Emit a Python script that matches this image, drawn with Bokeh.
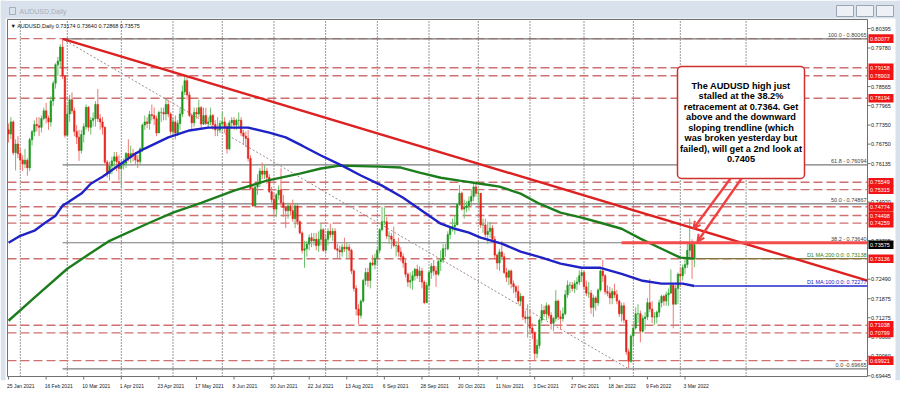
import numpy as np
from bokeh.plotting import figure
from bokeh.models import (ColumnDataSource, Range1d, FixedTicker, Arrow, OpenHead)
from bokeh.core.properties import value
from bokeh.embed import file_html
from bokeh.resources import INLINE

# ---------------- data ----------------
window_title = "AUDUSD,Daily"
header_text = "\u25bc AUDUSD,Daily  0.73174 0.73640 0.72868 0.73575"

date_labels = ["25 Jan 2021", "16 Feb 2021", "10 Mar 2021", "1 Apr 2021", "23 Apr 2021",
               "17 May 2021", "8 Jun 2021", "30 Jun 2021", "22 Jul 2021", "13 Aug 2021",
               "6 Sep 2021", "28 Sep 2021", "20 Oct 2021", "11 Nov 2021", "3 Dec 2021",
               "27 Dec 2021", "18 Jan 2022", "9 Feb 2022", "3 Mar 2022"]
date_label_bars = [0, 16, 32, 48, 64, 80, 96, 112, 128, 144, 160, 176, 192, 208, 224,
                   240, 256, 272, 288]
month_start_bars = [5, 25, 48, 70, 91, 113, 135, 157, 179, 200, 222, 245, 266, 286, 314]

first_open = 0.7720
closes = [
    0.7707, 0.7745, 0.7648, 0.7675, 0.7645,
    0.7625, 0.7612, 0.7624, 0.7600, 0.7689,
    0.7714, 0.7737, 0.7733, 0.7728, 0.7756,
    0.7780, 0.7757, 0.7745, 0.7811, 0.7867,
    0.7925, 0.7937, 0.7981, 0.7890, 0.7703,
    0.7770, 0.7815, 0.7780, 0.7715, 0.7697,
    0.7655, 0.7705, 0.7730, 0.7791, 0.7728,
    0.7750, 0.7756, 0.7800, 0.7755, 0.7745,
    0.7728, 0.7618, 0.7582, 0.7606, 0.7622,
    0.7635, 0.7620, 0.7598, 0.7610, 0.7615,
    0.7645, 0.7632, 0.7645, 0.7640, 0.7625,
    0.7620, 0.7660, 0.7735, 0.7745, 0.7740,
    0.7768, 0.7765, 0.7755, 0.7710, 0.7775,
    0.7775, 0.7770, 0.7800, 0.7770, 0.7715,
    0.7745, 0.7710, 0.7740, 0.7770, 0.7840,
    0.7875, 0.7830, 0.7765, 0.7742, 0.7775,
    0.7770, 0.7790, 0.7738, 0.7765, 0.7740,
    0.7745, 0.7765, 0.7737, 0.7720, 0.7720,
    0.7740, 0.7745, 0.7730, 0.7660, 0.7742,
    0.7750, 0.7735, 0.7750, 0.7750, 0.7710,
    0.7700, 0.7693, 0.7630, 0.7535, 0.7480,
    0.7540, 0.7550, 0.7590, 0.7580, 0.7590,
    0.7570, 0.7525, 0.7500, 0.7470, 0.7515,
    0.7530, 0.7490, 0.7475, 0.7465, 0.7480,
    0.7465, 0.7440, 0.7480, 0.7430, 0.7395,
    0.7340, 0.7345, 0.7360, 0.7380, 0.7370,
    0.7375, 0.7355, 0.7375, 0.7405, 0.7340,
    0.7375, 0.7400, 0.7390, 0.7400, 0.7345,
    0.7340, 0.7335, 0.7350, 0.7345, 0.7350,
    0.7340, 0.7275, 0.7220, 0.7155, 0.7135,
    0.7180, 0.7245, 0.7270, 0.7245, 0.7300,
    0.7295, 0.7315, 0.7340, 0.7405, 0.7430,
    0.7430, 0.7385, 0.7385, 0.7375, 0.7355,
    0.7355, 0.7335, 0.7320, 0.7300, 0.7265,
    0.7240, 0.7245, 0.7260, 0.7280, 0.7260,
    0.7275, 0.7240, 0.7175, 0.7230, 0.7270,
    0.7290, 0.7275, 0.7265, 0.7305, 0.7310,
    0.7345, 0.7345, 0.7390, 0.7410, 0.7415,
    0.7420, 0.7485, 0.7520, 0.7470, 0.7475,
    0.7480, 0.7495, 0.7510, 0.7540, 0.7520,
    0.7520, 0.7420, 0.7420, 0.7390, 0.7400,
    0.7410, 0.7375, 0.7325, 0.7300, 0.7335,
    0.7320, 0.7270, 0.7255, 0.7275, 0.7235,
    0.7225, 0.7210, 0.7180, 0.7195, 0.7130,
    0.7125, 0.7130, 0.7095, 0.7080, 0.7015,
    0.7040, 0.7120, 0.7150, 0.7140, 0.7165,
    0.7135, 0.7110, 0.7125, 0.7180, 0.7130,
    0.7125, 0.7140, 0.7200, 0.7230, 0.7230,
    0.7220, 0.7235, 0.7240, 0.7260, 0.7270,
    0.7225, 0.7205, 0.7205, 0.7160, 0.7190,
    0.7175, 0.7215, 0.7275, 0.7260, 0.7210,
    0.7205, 0.7190, 0.7210, 0.7200, 0.7180,
    0.7140, 0.7165, 0.7120, 0.7020, 0.6990,
    0.7070, 0.7095, 0.7140, 0.7140, 0.7085,
    0.7125, 0.7130, 0.7175, 0.7155, 0.7130,
    0.7130, 0.7145, 0.7175, 0.7195, 0.7180,
    0.7200, 0.7205, 0.7230, 0.7170, 0.7220,
    0.7265, 0.7260, 0.7285, 0.7295, 0.7340,
    0.7360, 0.7317, 0.7358,
]
highs = [
    0.7740, 0.7760, 0.7750, 0.7690, 0.7700,
    0.7660, 0.7640, 0.7660, 0.7630, 0.7695,
    0.7720, 0.7750, 0.7760, 0.7760, 0.7765,
    0.7790, 0.7805, 0.7765, 0.7825, 0.7875,
    0.7930, 0.7950, 0.7990, 0.8007, 0.7890,
    0.7800, 0.7830, 0.7838, 0.7790, 0.7735,
    0.7720, 0.7720, 0.7740, 0.7800, 0.7795,
    0.7760, 0.7775, 0.7810, 0.7849, 0.7770,
    0.7760, 0.7730, 0.7625, 0.7620, 0.7635,
    0.7650, 0.7650, 0.7640, 0.7625, 0.7630,
    0.7650, 0.7690, 0.7670, 0.7660, 0.7650,
    0.7640, 0.7665, 0.7740, 0.7765, 0.7760,
    0.7780, 0.7800, 0.7790, 0.7765, 0.7780,
    0.7790, 0.7790, 0.7818, 0.7815, 0.7775,
    0.7760, 0.7765, 0.7750, 0.7790, 0.7860,
    0.7891, 0.7885, 0.7840, 0.7770, 0.7790,
    0.7790, 0.7815, 0.7795, 0.7790, 0.7790,
    0.7760, 0.7790, 0.7770, 0.7750, 0.7760,
    0.7750, 0.7775, 0.7760, 0.7740, 0.7750,
    0.7760, 0.7760, 0.7755, 0.7775, 0.7760,
    0.7720, 0.7715, 0.7720, 0.7640, 0.7550,
    0.7545, 0.7580, 0.7600, 0.7617, 0.7610,
    0.7600, 0.7580, 0.7540, 0.7520, 0.7520,
    0.7545, 0.7599, 0.7515, 0.7480, 0.7490,
    0.7490, 0.7500, 0.7490, 0.7490, 0.7435,
    0.7400, 0.7370, 0.7370, 0.7390, 0.7395,
    0.7395, 0.7395, 0.7400, 0.7425, 0.7410,
    0.7390, 0.7410, 0.7425, 0.7410, 0.7410,
    0.7360, 0.7355, 0.7360, 0.7380, 0.7365,
    0.7360, 0.7345, 0.7280, 0.7230, 0.7170,
    0.7185, 0.7250, 0.7285, 0.7285, 0.7305,
    0.7325, 0.7330, 0.7350, 0.7410, 0.7478,
    0.7475, 0.7445, 0.7400, 0.7395, 0.7415,
    0.7370, 0.7380, 0.7350, 0.7330, 0.7315,
    0.7270, 0.7270, 0.7275, 0.7285, 0.7295,
    0.7290, 0.7285, 0.7245, 0.7240, 0.7275,
    0.7300, 0.7310, 0.7290, 0.7310, 0.7340,
    0.7360, 0.7360, 0.7400, 0.7415, 0.7440,
    0.7450, 0.7490, 0.7546, 0.7525, 0.7500,
    0.7495, 0.7510, 0.7530, 0.7556, 0.7550,
    0.7535, 0.7520, 0.7440, 0.7440, 0.7430,
    0.7430, 0.7420, 0.7385, 0.7330, 0.7345,
    0.7370, 0.7330, 0.7285, 0.7280, 0.7280,
    0.7245, 0.7230, 0.7230, 0.7205, 0.7195,
    0.7150, 0.7170, 0.7155, 0.7110, 0.7085,
    0.7060, 0.7125, 0.7170, 0.7165, 0.7175,
    0.7170, 0.7145, 0.7130, 0.7215, 0.7185,
    0.7150, 0.7160, 0.7215, 0.7245, 0.7240,
    0.7240, 0.7245, 0.7255, 0.7277, 0.7280,
    0.7275, 0.7245, 0.7240, 0.7215, 0.7200,
    0.7195, 0.7220, 0.7280, 0.7310, 0.7265,
    0.7230, 0.7225, 0.7220, 0.7235, 0.7215,
    0.7185, 0.7175, 0.7175, 0.7120, 0.7030,
    0.7075, 0.7110, 0.7160, 0.7170, 0.7150,
    0.7135, 0.7145, 0.7190, 0.7250, 0.7180,
    0.7145, 0.7150, 0.7185, 0.7200, 0.7200,
    0.7210, 0.7220, 0.7280, 0.7235, 0.7230,
    0.7270, 0.7285, 0.7295, 0.7310, 0.7360,
    0.7441, 0.7375, 0.7364,
]
lows = [
    0.7680, 0.7690, 0.7640, 0.7592, 0.7630,
    0.7593, 0.7590, 0.7600, 0.7575, 0.7590,
    0.7670, 0.7700, 0.7715, 0.7700, 0.7712,
    0.7750, 0.7740, 0.7720, 0.7730, 0.7795,
    0.7850, 0.7890, 0.7915, 0.7880, 0.7695,
    0.7700, 0.7745, 0.7770, 0.7700, 0.7675,
    0.7622, 0.7645, 0.7680, 0.7720, 0.7715,
    0.7705, 0.7730, 0.7730, 0.7745, 0.7720,
    0.7705, 0.7610, 0.7570, 0.7560, 0.7580,
    0.7600, 0.7590, 0.7560, 0.7535, 0.7595,
    0.7600, 0.7620, 0.7615, 0.7620, 0.7610,
    0.7600, 0.7610, 0.7650, 0.7720, 0.7725,
    0.7720, 0.7750, 0.7735, 0.7700, 0.7710,
    0.7745, 0.7750, 0.7750, 0.7760, 0.7705,
    0.7700, 0.7690, 0.7700, 0.7720, 0.7760,
    0.7830, 0.7815, 0.7760, 0.7720, 0.7730,
    0.7755, 0.7760, 0.7725, 0.7735, 0.7735,
    0.7725, 0.7735, 0.7720, 0.7700, 0.7700,
    0.7710, 0.7720, 0.7710, 0.7645, 0.7655,
    0.7725, 0.7720, 0.7720, 0.7725, 0.7700,
    0.7675, 0.7665, 0.7620, 0.7530, 0.7477,
    0.7480, 0.7515, 0.7540, 0.7565, 0.7565,
    0.7550, 0.7520, 0.7490, 0.7455, 0.7445,
    0.7500, 0.7480, 0.7445, 0.7410, 0.7440,
    0.7450, 0.7430, 0.7410, 0.7420, 0.7390,
    0.7330, 0.7285, 0.7320, 0.7340, 0.7350,
    0.7355, 0.7340, 0.7335, 0.7355, 0.7335,
    0.7330, 0.7355, 0.7380, 0.7370, 0.7340,
    0.7315, 0.7315, 0.7320, 0.7335, 0.7315,
    0.7315, 0.7265, 0.7210, 0.7135, 0.7106,
    0.7125, 0.7175, 0.7230, 0.7225, 0.7220,
    0.7290, 0.7280, 0.7290, 0.7330, 0.7400,
    0.7420, 0.7375, 0.7360, 0.7345, 0.7350,
    0.7320, 0.7320, 0.7305, 0.7285, 0.7255,
    0.7225, 0.7220, 0.7215, 0.7245, 0.7250,
    0.7240, 0.7220, 0.7170, 0.7175, 0.7215,
    0.7250, 0.7260, 0.7225, 0.7260, 0.7275,
    0.7300, 0.7320, 0.7340, 0.7375, 0.7400,
    0.7390, 0.7420, 0.7480, 0.7465, 0.7440,
    0.7460, 0.7465, 0.7480, 0.7495, 0.7510,
    0.7490, 0.7410, 0.7395, 0.7380, 0.7360,
    0.7380, 0.7370, 0.7310, 0.7280, 0.7275,
    0.7310, 0.7265, 0.7240, 0.7230, 0.7220,
    0.7205, 0.7190, 0.7170, 0.7165, 0.7120,
    0.7110, 0.7065, 0.7085, 0.7060, 0.6993,
    0.7000, 0.7030, 0.7110, 0.7130, 0.7120,
    0.7125, 0.7090, 0.7085, 0.7115, 0.7120,
    0.7090, 0.7115, 0.7135, 0.7190, 0.7205,
    0.7210, 0.7205, 0.7215, 0.7230, 0.7240,
    0.7215, 0.7195, 0.7190, 0.7140, 0.7130,
    0.7150, 0.7165, 0.7210, 0.7240, 0.7200,
    0.7195, 0.7170, 0.7170, 0.7190, 0.7170,
    0.7130, 0.7115, 0.7110, 0.7010, 0.6967,
    0.6985, 0.7040, 0.7090, 0.7110, 0.7050,
    0.7080, 0.7090, 0.7120, 0.7145, 0.7110,
    0.7105, 0.7110, 0.7130, 0.7160, 0.7165,
    0.7165, 0.7165, 0.7220, 0.7094, 0.7170,
    0.7170, 0.7225, 0.7245, 0.7265, 0.7285,
    0.7310, 0.7250, 0.7287,
]

ma100_bars = [0, 5, 11, 15, 20, 23, 25, 31, 35, 40, 54, 58, 68, 77, 85, 96, 102, 111, 118, 125,
              133, 142, 150, 159, 168, 176, 184, 190, 196, 201, 210, 218, 227, 235, 244, 252,
              261, 270, 278, 287, 292]
ma100_vals = [0.7364, 0.7386, 0.7402, 0.7424, 0.7449, 0.7481, 0.7490, 0.7519, 0.7550, 0.7572,
              0.7645, 0.7661, 0.7696, 0.7718, 0.7727, 0.7727, 0.7727, 0.7711, 0.7696, 0.7670,
              0.7639, 0.7607, 0.7576, 0.7544, 0.7506, 0.7465, 0.7424, 0.7408, 0.7396, 0.7380,
              0.7361, 0.7336, 0.7317, 0.7298, 0.7285, 0.7285, 0.7266, 0.7244, 0.7235, 0.7235,
              0.72277]
ma200_bars = [0, 11, 25, 32, 43, 60, 70, 82, 96, 110, 124, 133, 141, 158, 167, 175, 184, 192,
              201, 209, 218, 226, 235, 244, 252, 261, 269, 278, 286, 292]
ma200_vals = [0.7118, 0.7191, 0.7282, 0.7317, 0.7370, 0.7427, 0.7459, 0.7490, 0.7528, 0.7560,
              0.7582, 0.7598, 0.7607, 0.7604, 0.7601, 0.7585, 0.7569, 0.7560, 0.7550, 0.7541,
              0.7519, 0.7487, 0.7459, 0.7443, 0.7427, 0.7408, 0.7377, 0.7345, 0.7317, 0.73138]

# price-scale labels that are visible (the rest sit under the level tags)
price_ticks = [0.80395, 0.79780, 0.78565, 0.77965, 0.77350, 0.76750, 0.76135,
               0.74920, 0.73705, 0.72490, 0.71875, 0.71275, 0.70660, 0.70060, 0.69445]

level_prices = [0.80077, 0.79158, 0.78903, 0.78194, 0.75549, 0.75315, 0.74774, 0.74498,
                0.74259, 0.73136, 0.71038, 0.70799, 0.69921]

fib_levels = [0.80065, 0.76094, 0.74867, 0.73640, 0.69665]
fib_labels = ["100.0 - 0.80065", "61.8 - 0.76094", "50.0 - 0.74867", "38.2 - 0.73640",
              "0.0 -0.69665"]
swing_high = [23, 0.80065]
swing_low = [264, 0.69665]
trend_bars = [23, 365.7]
trend_prices = [0.80070, 0.72447]
retrace_price = 0.73640
retrace_from_bar = 261
last_price = 0.73575
ma200_text = "D1 MA:200:0:0: 0.73138"
ma100_text = "D1 MA:100:0:0: 0.72277"

note_lines = ["The AUDUSD high just", "stalled at the 38.2%", "retracement at 0.7364. Get",
              "above and the downward", "sloping trendline (which",
              "was broken yesterday but", "failed), will get a 2nd look at", "0.7405"]

# ---------------- geometry ----------------
W, H = 900, 395
CH_L, CH_R, CH_T, CH_B = 7, 867, 19, 376      # MT4 chart area in pixels
X0, X1 = -0.45, 365.7                          # bars across the chart area
Y0, Y1 = 0.69422, 0.80679                      # prices across the chart area
FRAME_B = 380                                  # bottom of Bokeh frame (x axis below)
ppx = (X1 - X0) / (CH_R - CH_L)
ppy = (Y1 - Y0) / (CH_B - CH_T)


def px_x(px):
    return X0 + (px - CH_L) * ppx


def px_y(py):
    return Y1 - (py - CH_T) * ppy


FONT = "Liberation Sans"
GRAY = "#707070"

p = figure(width=W, height=H,
           x_range=Range1d(px_x(0), px_x(W)), y_range=Range1d(px_y(FRAME_B), px_y(0)),
           output_backend="svg", toolbar_location=None, y_axis_location=None,
           x_axis_location="below", min_border_left=0, min_border_right=0,
           min_border_top=0, min_border_bottom=H - FRAME_B,
           background_fill_color="white", border_fill_color="white",
           outline_line_color=None)
p.grid.visible = False

# ---- date axis (labels start at their bar, like MT4) ----
char_w = {" ": 0.278, "J": 0.5, "a": 0.556, "n": 0.556, "F": 0.611, "e": 0.556, "b": 0.556,
          "M": 0.833, "r": 0.333, "A": 0.667, "p": 0.556, "y": 0.5, "u": 0.556, "S": 0.667,
          "O": 0.778, "c": 0.5, "t": 0.278, "N": 0.722, "o": 0.556, "v": 0.5, "D": 0.722,
          "l": 0.222, "g": 0.556}
DATE_FS = 5.0
tick_pos = []
for b, s in zip(date_label_bars, date_labels):
    wpx = sum(char_w.get(ch, 0.556) for ch in s) * DATE_FS
    tick_pos.append(round(b + (wpx / 2 - 1.5) * ppx, 3))
xa = p.xaxis[0]
xa.ticker = FixedTicker(ticks=tick_pos)
xa.major_label_overrides = {t: s for t, s in zip(tick_pos, date_labels)}
xa.major_label_text_font = FONT
xa.major_label_text_font_size = "%gpx" % DATE_FS
xa.major_label_text_color = "#202020"
xa.major_tick_out = 0
xa.major_tick_in = 0
xa.minor_tick_out = 0
xa.minor_tick_in = 0
xa.major_label_standoff = 2
xa.axis_line_color = None
xa.major_tick_line_color = None

# ---- window chrome ----
CHROME = "#d9e2ec"
p.quad(left=[px_x(0), px_x(0), px_x(W - 5)], right=[px_x(W), px_x(5), px_x(W)],
       top=[px_y(0), px_y(0), px_y(0)], bottom=[px_y(18), px_y(FRAME_B), px_y(FRAME_B)],
       fill_color=CHROME, line_color=None)
p.quad(left=[px_x(836), px_x(856), px_x(876)], right=[px_x(853), px_x(873), px_x(893)],
       top=[px_y(5)] * 3, bottom=[px_y(16)] * 3, fill_color="#edf1f6",
       line_color="#9ca6b2", line_width=1)
p.quad(left=[px_x(9)], right=[px_x(15)], top=[px_y(7)], bottom=[px_y(14)],
       fill_color=None, line_color="#a6aeb8", line_width=1)
p.text(x=[px_x(19)], y=[px_y(11)], text=[window_title], text_font=value(FONT),
       text_font_size="7px", text_color="#a6aeb8", text_baseline="middle")

# ---- grid & levels (inside chart area) ----
nm = len(month_start_bars)
p.segment(x0=month_start_bars, x1=month_start_bars, y0=[Y0] * nm, y1=[Y1] * nm,
          line_color="#303030", line_dash="1 2", line_width=1)
nl = len(level_prices)
p.segment(x0=[X0] * nl, x1=[X1] * nl, y0=level_prices, y1=level_prices,
          line_color="#cf7070", line_dash="9 4", line_width=1.4)

n_fib = len(fib_levels)
p.segment(x0=[swing_high[0]] * n_fib, x1=[X1] * n_fib, y0=fib_levels, y1=fib_levels,
          line_color="#7a7a7a", line_width=1.2)
p.line([swing_high[0], swing_low[0]], [swing_high[1], swing_low[1]],
       line_color="#a08a8a", line_dash="2 2", line_width=1)

# ---- candles ----
n = len(closes)
bars = list(range(n))
opens = [first_open] + closes[:-1]
hi = [max(h, o, c) for h, o, c in zip(highs, opens, closes)]
lo = [min(l, o, c) for l, o, c in zip(lows, opens, closes)]
up = [c >= o for o, c in zip(opens, closes)]
src = ColumnDataSource(dict(
    x=bars, h=hi, l=lo,
    top=[max(o, c) for o, c in zip(opens, closes)],
    bot=[min(o, c) for o, c in zip(opens, closes)],
    bc=["#1b981b" if u else "#e5231b" for u in up],
    wc=["#6cc06c" if u else "#ee7a76" for u in up]))
p.segment(x0="x", x1="x", y0="h", y1="l", line_color="wc", line_width=1, source=src)
p.vbar(x="x", width=0.62, top="top", bottom="bot", fill_color="bc", line_color="bc",
       line_width=0.6, source=src)

# ---- moving averages ----
p.line(ma200_bars, ma200_vals, line_color="#1c7d1c", line_width=2.4)
p.line(ma100_bars, ma100_vals, line_color="#1f22c4", line_width=2.4)
p.line([ma200_bars[-1], X1], [ma200_vals[-1], ma200_vals[-1]], line_color="#7f7a3c",
       line_width=1.2)
p.line([ma100_bars[-1], X1], [ma100_vals[-1], ma100_vals[-1]], line_color="#2028c8",
       line_width=1.4)

# ---- trendline and 38.2 marker ----
p.line(trend_bars, trend_prices, line_color="#dd2020", line_width=2.4)
p.line([retrace_from_bar, X1], [retrace_price, retrace_price], line_color="#f24c4c",
       line_width=3)

# ---- chart border ----
p.line([X0, X1, X1, X0, X0], [Y0, Y0, Y1, Y1, Y0], line_color=GRAY, line_width=1)
nd = len(date_label_bars)
p.segment(x0=date_label_bars, x1=date_label_bars, y0=[Y0] * nd, y1=[px_y(CH_B + 3)] * nd,
          line_color=GRAY, line_width=1)

# ---- texts on lines ----
p.text(x=[X1] * n_fib, y=fib_levels, text=fib_labels, text_align="right",
       text_baseline="bottom", x_offset=-1, y_offset=-1, text_font=value(FONT),
       text_font_size="5.5px", text_color="#404040")
p.text(x=[X1], y=[ma200_vals[-1]], text=[ma200_text], text_align="right",
       text_baseline="bottom", x_offset=-1, y_offset=-1, text_font=value(FONT),
       text_font_size="5.5px", text_color="#1f801f")
p.text(x=[X1], y=[ma100_vals[-1]], text=[ma100_text], text_align="right",
       text_baseline="bottom", x_offset=-1, y_offset=-1, text_font=value(FONT),
       text_font_size="5.5px", text_color="#2020c8")
p.text(x=[px_x(10)], y=[px_y(25)], text=[header_text], text_align="left",
       text_baseline="middle", text_font=value(FONT), text_font_size="5.5px",
       text_color="#101010")

# ---- price scale on the right ----
npt = len(price_ticks)
p.segment(x0=[X1] * npt, x1=[px_x(CH_R + 3)] * npt, y0=price_ticks, y1=price_ticks,
          line_color=GRAY, line_width=1)
p.text(x=[px_x(CH_R + 3.5)] * npt, y=price_ticks, text=["%.5f" % v for v in price_ticks],
       text_align="left", text_baseline="middle", text_font=value(FONT),
       text_font_size="5.5px", text_color="#202020")
tag_prices = level_prices + [last_price]
tag_fill = ["#f01414"] * nl + ["#000000"]
tag_h = 8.6 * ppy
p.quad(left=[px_x(CH_R + 1)] * len(tag_prices), right=[px_x(CH_R + 26)] * len(tag_prices),
       top=[v + tag_h / 2 for v in tag_prices], bottom=[v - tag_h / 2 for v in tag_prices],
       fill_color=tag_fill, line_color=None)
p.text(x=[px_x(CH_R + 2.5)] * len(tag_prices), y=tag_prices,
       text=["%.5f" % v for v in tag_prices], text_align="left", text_baseline="middle",
       text_font=value(FONT), text_font_size="5.5px", text_color="white")

# ---- note box ----
box_kw = dict(left=[px_x(677)], right=[px_x(804)], top=[px_y(66)], bottom=[px_y(178)],
              fill_color="white", line_color="#cf2f2f", line_width=1.5)
try:
    p.quad(border_radius=4, **box_kw)
except Exception:
    p.quad(**box_kw)
line_ys = [px_y(85 + 10.5 * i) for i in range(len(note_lines))]
p.text(x=[px_x(740.5)] * len(note_lines), y=line_ys, text=note_lines, text_align="center",
       text_baseline="middle", text_font=value(FONT), text_font_size="9.2px",
       text_font_style="bold", text_color="#000000")

for (tx, ty, hx, hy) in [(730, 178, 693, 228), (741, 178, 697, 241)]:
    p.add_layout(Arrow(end=OpenHead(size=7, line_color="#f04040", line_width=2),
                       x_start=px_x(tx), y_start=px_y(ty), x_end=px_x(hx), y_end=px_y(hy),
                       line_color="#f04040", line_width=2.4))

open("out.html", "w").write(file_html(p, INLINE))
